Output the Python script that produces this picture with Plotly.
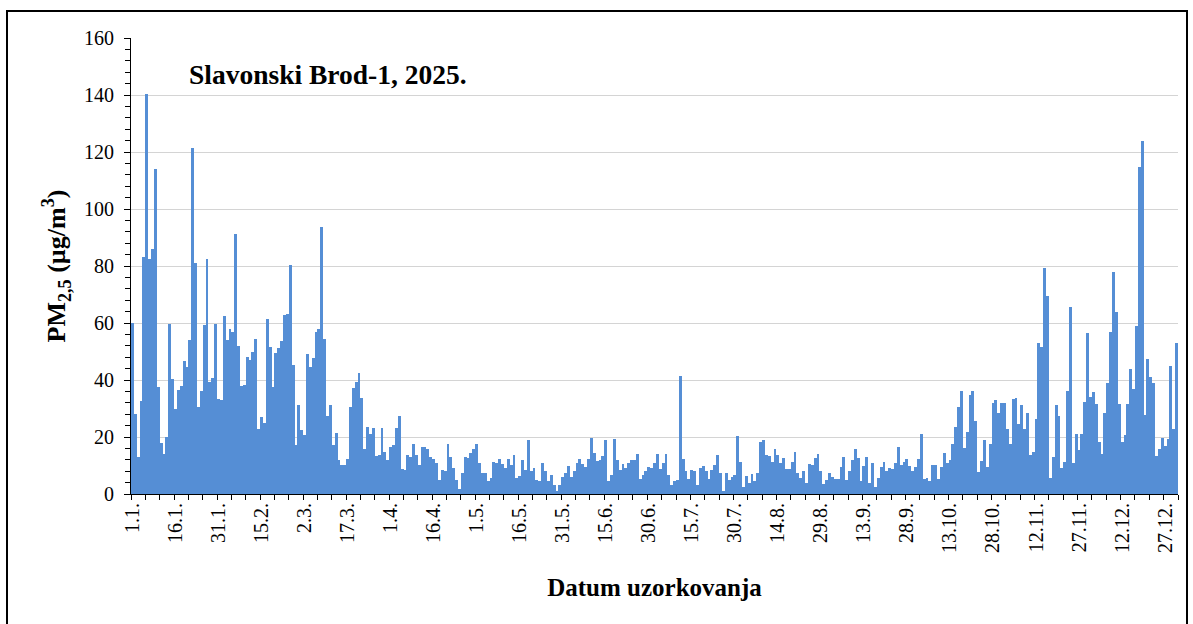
import numpy as np
import plotly.graph_objects as go

# Daily PM2.5 concentrations (µg/m3), Slavonski Brod-1, 2025 — one list per month
jan = [60, 28, 13, 32.5, 83, 140.5, 82.5, 86, 114, 37.5, 18, 14, 20, 59.5, 40.5, 30,
       36.5, 38, 46.8, 44.4, 54, 121.5, 81, 30.6, 36, 59.4, 82.5, 39.4, 40.6, 59.6, 33.3]
feb = [33, 62.6, 54, 58, 57, 91.2, 52, 38, 38.4, 48, 47, 50, 54.4, 22.8, 27, 25, 61.4,
       51.7, 37.7, 49.4, 51.2, 53.8, 62.8, 63.2, 80.5, 45.3, 17.3, 31.2]
mar = [22.5, 20.8, 49, 44.4, 47.6, 56.7, 58, 93.6, 54.4, 27.5, 31.3, 17.3, 21.3, 12,
       10.2, 10.2, 12.2, 30.4, 37.3, 39.4, 42.3, 33.8, 15.7, 23.6, 21, 23, 13.3, 13.7,
       23, 14.9, 12]
apr = [16.6, 17.2, 23, 27.5, 8.9, 8.4, 13.6, 13.1, 17.4, 13.7, 10.2, 16.4, 16.6, 15.7,
       12.9, 12.2, 10.8, 4.9, 8.5, 8.2, 17.6, 12.9, 9.2, 4.9, 1.9, 7.5, 12.9, 12.5, 14.4,
       15.8]
may = [17.6, 11, 7.5, 7.5, 4.5, 5.6, 11.4, 10.8, 12.2, 10.6, 9.2, 12.2, 10.1, 13.6, 5.6,
       6.4, 11.8, 8.5, 18.8, 8.2, 9.2, 4.9, 4.5, 11, 7.9, 4.5, 6.8, 3.1, 0.9, 3.1, 6]
jun = [7.5, 9.8, 6, 8, 11, 12.2, 10.4, 9.4, 12.2, 19.6, 14.5, 11.5, 11.8, 13.4, 18.8,
       4.5, 6.8, 19.3, 11.8, 8.5, 10.6, 9.1, 10.8, 11.8, 12, 14.1, 5.2, 6.8, 8, 9.6]
jul = [9.3, 11, 14.1, 8.7, 11, 14.1, 6.8, 3.2, 4.5, 4.9, 41.4, 12.2, 8, 5.4, 8.5, 8.2,
       3.1, 9.2, 9.9, 8.2, 5.4, 8.5, 10.2, 13.6, 7.5, 1.2, 7.5, 4.9, 6.1, 6.6, 20.2]
aug = [11.3, 2.6, 6.4, 4, 7, 4.5, 7.5, 18.4, 18.8, 13.8, 13.2, 11.4, 15.8, 13.6, 11,
       12.6, 8.7, 8.7, 11.3, 14.6, 7.5, 5.5, 8.2, 3.8, 10.6, 10.2, 12.6, 14.1, 7.9, 3.5,
       4.9]
sep = [7.5, 6.1, 5.2, 5.2, 9.4, 12.9, 4.9, 8.2, 12, 15.8, 12.6, 4.4, 9.9, 12.9, 4, 10.8,
       2.6, 5.6, 9.4, 11.3, 8.2, 9.2, 8.7, 10.8, 16.5, 10.1, 11.3, 12.2, 9.9, 8.2]
oct = [9.4, 12.2, 21.2, 5.4, 5.6, 4.7, 10.2, 10.2, 5.2, 9.4, 14.4, 10.8, 12, 17.6, 23.5,
       30.7, 36.3, 16, 21.7, 34.8, 36, 25.6, 7.8, 11.6, 19, 9.6, 17.4, 32, 33, 28.3, 31.8]
nov = [31.8, 22.7, 17.6, 33.3, 33.7, 24.6, 31.3, 22.7, 28.3, 13.7, 14.9, 26.2, 52.9,
       51.5, 79.3, 69.6, 5.7, 12.9, 31.1, 27.2, 9, 11.4, 36.3, 65.5, 10.8, 21, 15.4, 21,
       32.2, 56.6]
dec = [34.2, 35.9, 31.6, 18.4, 13.9, 28.5, 38.8, 57, 77.8, 63.9, 31.5, 18.4, 20.7, 31.5,
       43.9, 37, 59, 114.6, 123.7, 27.7, 47.3, 41.2, 38.8, 13.3, 15.7, 19.8, 16.8, 19.3,
       44.9, 22.7, 53.1]

# Date labels shown every 15 days
tick_labels = ["1.1.", "16.1.", "31.1.", "15.2.", "2.3.", "17.3.", "1.4.", "16.4.",
               "1.5.", "16.5.", "31.5.", "15.6.", "30.6.", "15.7.", "30.7.", "14.8.",
               "29.8.", "13.9.", "28.9.", "13.10.", "28.10.", "12.11.", "27.11.",
               "12.12.", "27.12."]

pm25 = jan + feb + mar + apr + may + jun + jul + aug + sep + oct + nov + dec
day = np.arange(len(pm25))
tick_pos = day[::15][:len(tick_labels)]

SERIF = "Liberation Serif, Times New Roman, serif"
W, H = 1193, 624
ML, MR, MT, MB = 131, 15, 38, 130
pw, ph = W - ML - MR, H - MT - MB


def px(x):
    return (x - ML) / pw


def py(y):
    return (H - MB - y) / ph


fig = go.Figure(go.Bar(
    x=day, y=pm25,
    marker=dict(color="#558ED5", line=dict(width=0)),
    hovertemplate="%{y}<extra></extra>",
))

fig.update_layout(
    width=W, height=H,
    margin=dict(l=ML, r=MR, t=MT, b=MB),
    paper_bgcolor="white", plot_bgcolor="white",
    bargap=0, showlegend=False,
    font=dict(family=SERIF, size=20, color="black"),
    xaxis=dict(
        range=[-0.5, len(pm25) - 0.5],
        tickmode="array", tickvals=tick_pos, ticktext=tick_labels,
        tickangle=-90, ticks="", showgrid=False,
        showline=True, linecolor="black", linewidth=1,
        tickfont=dict(family=SERIF, size=20, color="black"),
        minor=dict(ticks="outside", tick0=-0.5, dtick=5, ticklen=5,
                   tickcolor="black", showgrid=False),
        title=dict(text="<b>Datum uzorkovanja</b>", standoff=26,
                   font=dict(family=SERIF, size=25, color="black")),
        zeroline=False,
    ),
    yaxis=dict(
        range=[0, 160], dtick=20, tick0=0,
        ticks="outside", ticklen=6, tickcolor="black",
        showline=True, linecolor="black", linewidth=1,
        showgrid=True, gridcolor="#D4D4D4", gridwidth=1,
        tickfont=dict(family=SERIF, size=20, color="black"),
        ticklabelstandoff=6,
        minor=dict(ticks="outside", dtick=4, ticklen=5, tickcolor="black",
                   showgrid=False),
        title=dict(text="<b>PM<sub>2,5</sub> (µg/m<sup>3</sup>)</b>", standoff=10,
                   font=dict(family=SERIF, size=26, color="black")),
        zeroline=False,
    ),
    annotations=[dict(
        text="<b>Slavonski Brod-1, 2025.</b>",
        xref="paper", yref="paper", x=px(187), y=py(74),
        xanchor="left", yanchor="middle", showarrow=False,
        font=dict(family=SERIF, size=27.5, color="black"),
    )],
    shapes=[dict(
        type="rect", xref="paper", yref="paper",
        x0=px(7), x1=px(1187), y0=py(630), y1=py(11),
        line=dict(color="black", width=2), fillcolor="rgba(0,0,0,0)", layer="above",
    )],
)

fig.write_html("out.html")
